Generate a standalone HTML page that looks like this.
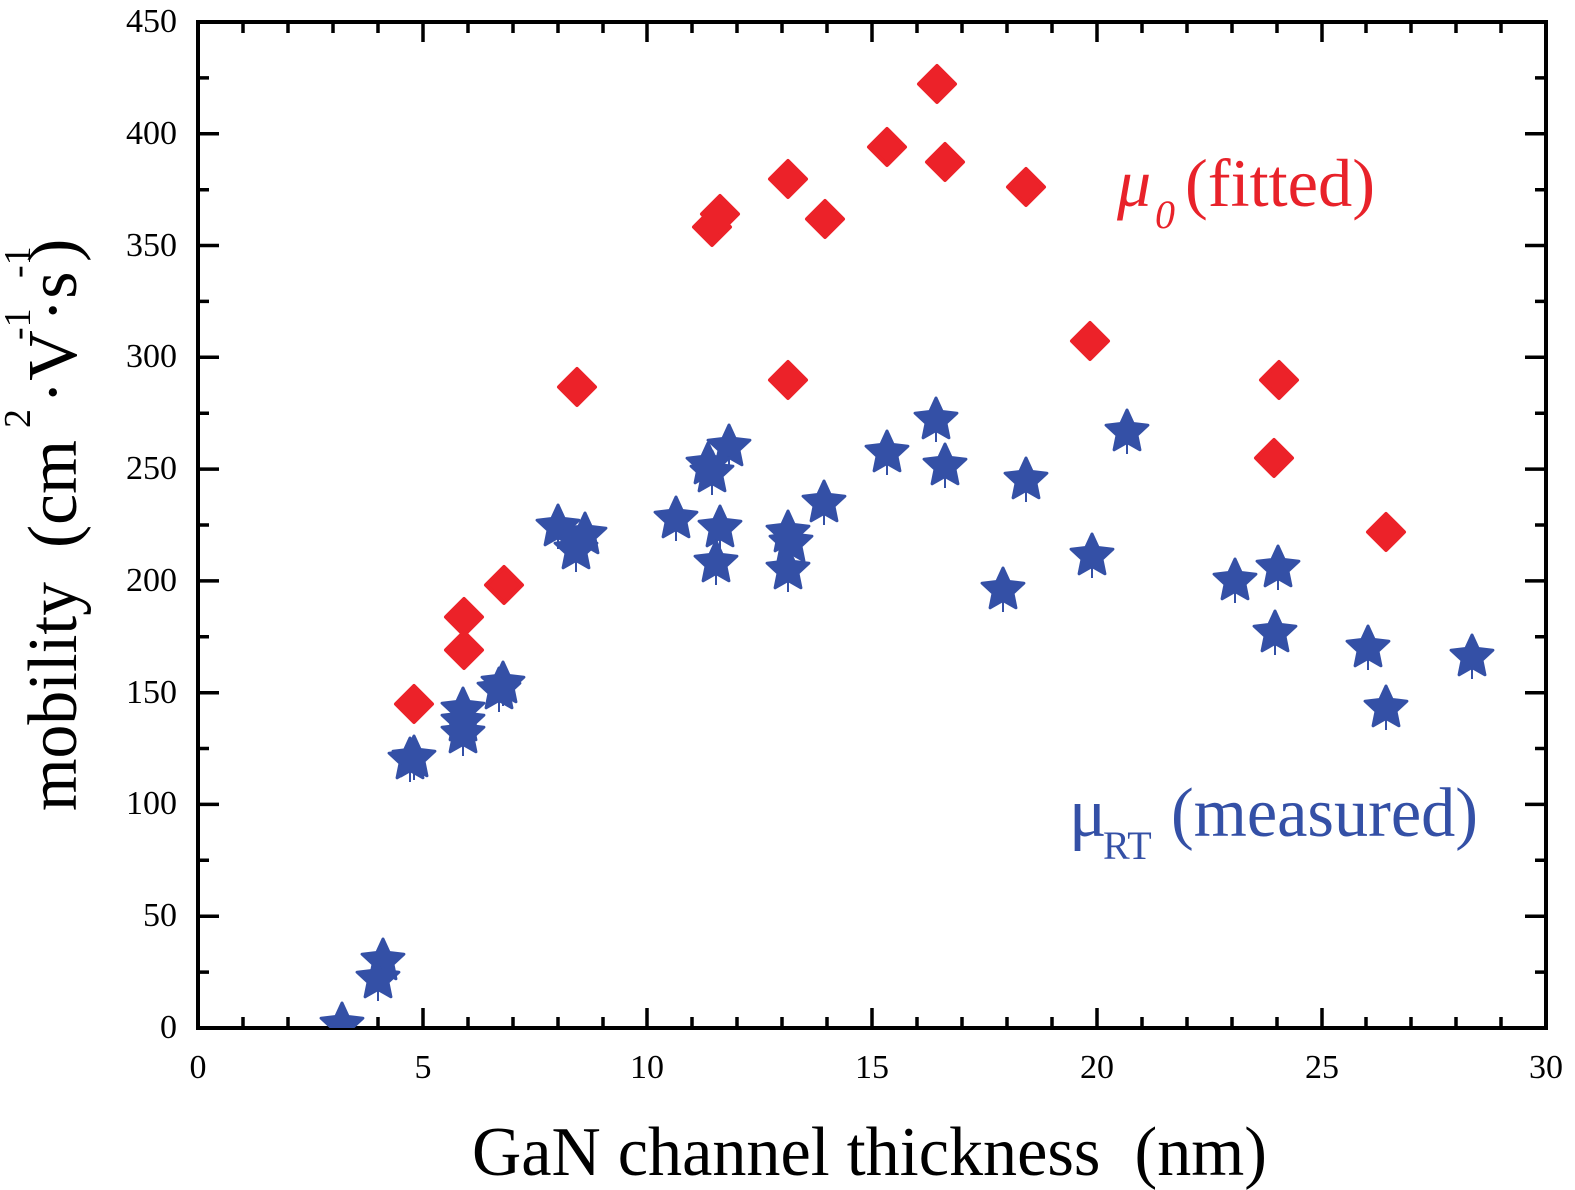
<!DOCTYPE html>
<html>
<head>
<meta charset="utf-8">
<style>
  html,body{margin:0;padding:0;background:#fff;}
  svg{display:block;}
  text{font-family:"Liberation Serif","DejaVu Serif",serif;}
</style>
</head>
<body>
<svg width="1575" height="1190" viewBox="0 0 1575 1190" xmlns="http://www.w3.org/2000/svg">
  <rect width="1575" height="1190" fill="#fff"/>
  <defs>
    <clipPath id="pa"><rect x="198" y="22" width="1348" height="1006"/></clipPath>
  </defs>

  <!-- frame -->
  <rect x="198" y="22" width="1348" height="1006" fill="none" stroke="#000" stroke-width="4"/>

  <!-- ticks -->
  <g stroke="#000" stroke-width="3.5">
    <path d="
      M198,1028v-20 M243,1028v-11 M288,1028v-11 M333,1028v-11 M378,1028v-11
      M423,1028v-20 M468,1028v-11 M513,1028v-11 M558,1028v-11 M603,1028v-11
      M647,1028v-20 M692,1028v-11 M737,1028v-11 M782,1028v-11 M827,1028v-11
      M872,1028v-20 M917,1028v-11 M962,1028v-11 M1007,1028v-11 M1052,1028v-11
      M1097,1028v-20 M1142,1028v-11 M1187,1028v-11 M1232,1028v-11 M1277,1028v-11
      M1322,1028v-20 M1366,1028v-11 M1411,1028v-11 M1456,1028v-11 M1501,1028v-11
      M1546,1028v-20
      M198,22v20 M243,22v11 M288,22v11 M333,22v11 M378,22v11
      M423,22v20 M468,22v11 M513,22v11 M558,22v11 M603,22v11
      M647,22v20 M692,22v11 M737,22v11 M782,22v11 M827,22v11
      M872,22v20 M917,22v11 M962,22v11 M1007,22v11 M1052,22v11
      M1097,22v20 M1142,22v11 M1187,22v11 M1232,22v11 M1277,22v11
      M1322,22v20 M1366,22v11 M1411,22v11 M1456,22v11 M1501,22v11
      M1546,22v20"/>
    <path d="
      M198,1028h21 M198,972.1h11 M198,916.2h21 M198,860.3h11 M198,804.4h21
      M198,748.5h11 M198,692.7h21 M198,636.8h11 M198,580.9h21 M198,525h11
      M198,469.1h21 M198,413.2h11 M198,357.3h21 M198,301.4h11 M198,245.5h21
      M198,189.7h11 M198,133.8h21 M198,77.9h11 M198,22h21
      M1546,1028h-21 M1546,972.1h-11 M1546,916.2h-21 M1546,860.3h-11 M1546,804.4h-21
      M1546,748.5h-11 M1546,692.7h-21 M1546,636.8h-11 M1546,580.9h-21 M1546,525h-11
      M1546,469.1h-21 M1546,413.2h-11 M1546,357.3h-21 M1546,301.4h-11 M1546,245.5h-21
      M1546,189.7h-11 M1546,133.8h-21 M1546,77.9h-11 M1546,22h-21"/>
  </g>

  <!-- y tick labels -->
  <g font-size="34" text-anchor="end" fill="#000">
    <text x="177" y="1038">0</text>
    <text x="177" y="926">50</text>
    <text x="177" y="814">100</text>
    <text x="177" y="703">150</text>
    <text x="177" y="591">200</text>
    <text x="177" y="479">250</text>
    <text x="177" y="367">300</text>
    <text x="177" y="256">350</text>
    <text x="177" y="144">400</text>
    <text x="177" y="32">450</text>
  </g>

  <!-- x tick labels -->
  <g font-size="34" text-anchor="middle" fill="#000">
    <text x="198" y="1078">0</text>
    <text x="423" y="1078">5</text>
    <text x="647" y="1078">10</text>
    <text x="872" y="1078">15</text>
    <text x="1097" y="1078">20</text>
    <text x="1322" y="1078">25</text>
    <text x="1546" y="1078">30</text>
  </g>

  <!-- x axis title -->
  <text x="472" y="1175" font-size="70" textLength="795" lengthAdjust="spacingAndGlyphs" fill="#000" xml:space="preserve">GaN channel thickness  (nm)</text>

  <!-- y axis title -->
  <g transform="rotate(-90)" fill="#000">
    <text x="-811" y="76" font-size="70" textLength="229" lengthAdjust="spacingAndGlyphs">mobility</text>
    <text x="-548" y="76" font-size="70" textLength="108" lengthAdjust="spacingAndGlyphs">(cm</text>
    <text x="-428" y="30" font-size="38">2</text>
    <text x="-404" y="76" font-size="70">·V</text>
    <text x="-340" y="30" font-size="38">-1</text>
    <text x="-322" y="76" font-size="70">·s</text>
    <text x="-278" y="30" font-size="38">-1</text>
    <text x="-262" y="76" font-size="70">)</text>
  </g>

  <!-- legend labels -->
  <g fill="#e8222a">
    <text x="1117" y="206" font-size="68" font-style="italic">μ</text>
    <text x="1155" y="228" font-size="40" font-style="italic">0</text>
    <text x="1185" y="206" font-size="68" textLength="190" lengthAdjust="spacingAndGlyphs">(fitted)</text>
  </g>
  <g fill="#3450a6">
    <text x="1069" y="836" font-size="70">μ</text>
    <text x="1103" y="859" font-size="40">RT</text>
    <text x="1171" y="836" font-size="70" textLength="307" lengthAdjust="spacingAndGlyphs">(measured)</text>
  </g>

  <!-- data -->
  <g clip-path="url(#pa)">
    <g fill="#ec2229" stroke="#ec2229" stroke-width="4" stroke-linejoin="round">
      <path transform="translate(414,704)" d="M0,-18L18,0L0,18L-18,0Z"/>
      <path transform="translate(464,617)" d="M0,-18L18,0L0,18L-18,0Z"/>
      <path transform="translate(464,650)" d="M0,-18L18,0L0,18L-18,0Z"/>
      <path transform="translate(504,585)" d="M0,-18L18,0L0,18L-18,0Z"/>
      <path transform="translate(577,387)" d="M0,-18L18,0L0,18L-18,0Z"/>
      <path transform="translate(712,227)" d="M0,-18L18,0L0,18L-18,0Z"/>
      <path transform="translate(720,214)" d="M0,-18L18,0L0,18L-18,0Z"/>
      <path transform="translate(788,179)" d="M0,-18L18,0L0,18L-18,0Z"/>
      <path transform="translate(788,380)" d="M0,-18L18,0L0,18L-18,0Z"/>
      <path transform="translate(825,219)" d="M0,-18L18,0L0,18L-18,0Z"/>
      <path transform="translate(887,147)" d="M0,-18L18,0L0,18L-18,0Z"/>
      <path transform="translate(937,84)" d="M0,-18L18,0L0,18L-18,0Z"/>
      <path transform="translate(945,162)" d="M0,-18L18,0L0,18L-18,0Z"/>
      <path transform="translate(1026,187)" d="M0,-18L18,0L0,18L-18,0Z"/>
      <path transform="translate(1090,341)" d="M0,-18L18,0L0,18L-18,0Z"/>
      <path transform="translate(1274,458)" d="M0,-18L18,0L0,18L-18,0Z"/>
      <path transform="translate(1279,380)" d="M0,-18L18,0L0,18L-18,0Z"/>
      <path transform="translate(1386,532)" d="M0,-18L18,0L0,18L-18,0Z"/>
    </g>

    <g fill="#3450a6" stroke="#3450a6" stroke-width="3" stroke-linejoin="round">
      <g transform="translate(342,1025)"><path d="M0,-22L6.17,-8.49L20.92,-6.8L9.99,3.24L12.93,17.8L0,10.5L-12.93,17.8L-9.99,3.24L-20.92,-6.8L-6.17,-8.49Z"/><path d="M0,10V22" stroke-width="2" fill="none"/></g>
      <g transform="translate(383,961)"><path d="M0,-22L6.17,-8.49L20.92,-6.8L9.99,3.24L12.93,17.8L0,10.5L-12.93,17.8L-9.99,3.24L-20.92,-6.8L-6.17,-8.49Z"/><path d="M0,10V22" stroke-width="2" fill="none"/></g>
      <g transform="translate(378,979)"><path d="M0,-22L6.17,-8.49L20.92,-6.8L9.99,3.24L12.93,17.8L0,10.5L-12.93,17.8L-9.99,3.24L-20.92,-6.8L-6.17,-8.49Z"/><path d="M0,10V22" stroke-width="2" fill="none"/></g>
      <g transform="translate(410,760)"><path d="M0,-22L6.17,-8.49L20.92,-6.8L9.99,3.24L12.93,17.8L0,10.5L-12.93,17.8L-9.99,3.24L-20.92,-6.8L-6.17,-8.49Z"/><path d="M0,10V22" stroke-width="2" fill="none"/></g>
      <g transform="translate(414,758)"><path d="M0,-22L6.17,-8.49L20.92,-6.8L9.99,3.24L12.93,17.8L0,10.5L-12.93,17.8L-9.99,3.24L-20.92,-6.8L-6.17,-8.49Z"/><path d="M0,10V22" stroke-width="2" fill="none"/></g>
      <g transform="translate(463,710)"><path d="M0,-22L6.17,-8.49L20.92,-6.8L9.99,3.24L12.93,17.8L0,10.5L-12.93,17.8L-9.99,3.24L-20.92,-6.8L-6.17,-8.49Z"/><path d="M0,10V22" stroke-width="2" fill="none"/></g>
      <g transform="translate(463,722)"><path d="M0,-22L6.17,-8.49L20.92,-6.8L9.99,3.24L12.93,17.8L0,10.5L-12.93,17.8L-9.99,3.24L-20.92,-6.8L-6.17,-8.49Z"/><path d="M0,10V22" stroke-width="2" fill="none"/></g>
      <g transform="translate(463,734)"><path d="M0,-22L6.17,-8.49L20.92,-6.8L9.99,3.24L12.93,17.8L0,10.5L-12.93,17.8L-9.99,3.24L-20.92,-6.8L-6.17,-8.49Z"/><path d="M0,10V22" stroke-width="2" fill="none"/></g>
      <g transform="translate(503,684)"><path d="M0,-22L6.17,-8.49L20.92,-6.8L9.99,3.24L12.93,17.8L0,10.5L-12.93,17.8L-9.99,3.24L-20.92,-6.8L-6.17,-8.49Z"/><path d="M0,10V22" stroke-width="2" fill="none"/></g>
      <g transform="translate(499,690)"><path d="M0,-22L6.17,-8.49L20.92,-6.8L9.99,3.24L12.93,17.8L0,10.5L-12.93,17.8L-9.99,3.24L-20.92,-6.8L-6.17,-8.49Z"/><path d="M0,10V22" stroke-width="2" fill="none"/></g>
      <g transform="translate(558,527)"><path d="M0,-22L6.17,-8.49L20.92,-6.8L9.99,3.24L12.93,17.8L0,10.5L-12.93,17.8L-9.99,3.24L-20.92,-6.8L-6.17,-8.49Z"/><path d="M0,10V22" stroke-width="2" fill="none"/></g>
      <g transform="translate(585,535)"><path d="M0,-22L6.17,-8.49L20.92,-6.8L9.99,3.24L12.93,17.8L0,10.5L-12.93,17.8L-9.99,3.24L-20.92,-6.8L-6.17,-8.49Z"/><path d="M0,10V22" stroke-width="2" fill="none"/></g>
      <g transform="translate(576,550)"><path d="M0,-22L6.17,-8.49L20.92,-6.8L9.99,3.24L12.93,17.8L0,10.5L-12.93,17.8L-9.99,3.24L-20.92,-6.8L-6.17,-8.49Z"/><path d="M0,10V22" stroke-width="2" fill="none"/></g>
      <g transform="translate(676,519)"><path d="M0,-22L6.17,-8.49L20.92,-6.8L9.99,3.24L12.93,17.8L0,10.5L-12.93,17.8L-9.99,3.24L-20.92,-6.8L-6.17,-8.49Z"/><path d="M0,10V22" stroke-width="2" fill="none"/></g>
      <g transform="translate(729,447)"><path d="M0,-22L6.17,-8.49L20.92,-6.8L9.99,3.24L12.93,17.8L0,10.5L-12.93,17.8L-9.99,3.24L-20.92,-6.8L-6.17,-8.49Z"/><path d="M0,10V22" stroke-width="2" fill="none"/></g>
      <g transform="translate(708,465)"><path d="M0,-22L6.17,-8.49L20.92,-6.8L9.99,3.24L12.93,17.8L0,10.5L-12.93,17.8L-9.99,3.24L-20.92,-6.8L-6.17,-8.49Z"/><path d="M0,10V22" stroke-width="2" fill="none"/></g>
      <g transform="translate(712,473)"><path d="M0,-22L6.17,-8.49L20.92,-6.8L9.99,3.24L12.93,17.8L0,10.5L-12.93,17.8L-9.99,3.24L-20.92,-6.8L-6.17,-8.49Z"/><path d="M0,10V22" stroke-width="2" fill="none"/></g>
      <g transform="translate(720,528)"><path d="M0,-22L6.17,-8.49L20.92,-6.8L9.99,3.24L12.93,17.8L0,10.5L-12.93,17.8L-9.99,3.24L-20.92,-6.8L-6.17,-8.49Z"/><path d="M0,10V22" stroke-width="2" fill="none"/></g>
      <g transform="translate(716,563)"><path d="M0,-22L6.17,-8.49L20.92,-6.8L9.99,3.24L12.93,17.8L0,10.5L-12.93,17.8L-9.99,3.24L-20.92,-6.8L-6.17,-8.49Z"/><path d="M0,10V22" stroke-width="2" fill="none"/></g>
      <g transform="translate(788,533)"><path d="M0,-22L6.17,-8.49L20.92,-6.8L9.99,3.24L12.93,17.8L0,10.5L-12.93,17.8L-9.99,3.24L-20.92,-6.8L-6.17,-8.49Z"/><path d="M0,10V22" stroke-width="2" fill="none"/></g>
      <g transform="translate(791,543)"><path d="M0,-22L6.17,-8.49L20.92,-6.8L9.99,3.24L12.93,17.8L0,10.5L-12.93,17.8L-9.99,3.24L-20.92,-6.8L-6.17,-8.49Z"/><path d="M0,10V22" stroke-width="2" fill="none"/></g>
      <g transform="translate(788,570)"><path d="M0,-22L6.17,-8.49L20.92,-6.8L9.99,3.24L12.93,17.8L0,10.5L-12.93,17.8L-9.99,3.24L-20.92,-6.8L-6.17,-8.49Z"/><path d="M0,10V22" stroke-width="2" fill="none"/></g>
      <g transform="translate(824,503)"><path d="M0,-22L6.17,-8.49L20.92,-6.8L9.99,3.24L12.93,17.8L0,10.5L-12.93,17.8L-9.99,3.24L-20.92,-6.8L-6.17,-8.49Z"/><path d="M0,10V22" stroke-width="2" fill="none"/></g>
      <g transform="translate(887,453)"><path d="M0,-22L6.17,-8.49L20.92,-6.8L9.99,3.24L12.93,17.8L0,10.5L-12.93,17.8L-9.99,3.24L-20.92,-6.8L-6.17,-8.49Z"/><path d="M0,10V22" stroke-width="2" fill="none"/></g>
      <g transform="translate(936,420)"><path d="M0,-22L6.17,-8.49L20.92,-6.8L9.99,3.24L12.93,17.8L0,10.5L-12.93,17.8L-9.99,3.24L-20.92,-6.8L-6.17,-8.49Z"/><path d="M0,10V22" stroke-width="2" fill="none"/></g>
      <g transform="translate(945,466)"><path d="M0,-22L6.17,-8.49L20.92,-6.8L9.99,3.24L12.93,17.8L0,10.5L-12.93,17.8L-9.99,3.24L-20.92,-6.8L-6.17,-8.49Z"/><path d="M0,10V22" stroke-width="2" fill="none"/></g>
      <g transform="translate(1026,480)"><path d="M0,-22L6.17,-8.49L20.92,-6.8L9.99,3.24L12.93,17.8L0,10.5L-12.93,17.8L-9.99,3.24L-20.92,-6.8L-6.17,-8.49Z"/><path d="M0,10V22" stroke-width="2" fill="none"/></g>
      <g transform="translate(1003,590)"><path d="M0,-22L6.17,-8.49L20.92,-6.8L9.99,3.24L12.93,17.8L0,10.5L-12.93,17.8L-9.99,3.24L-20.92,-6.8L-6.17,-8.49Z"/><path d="M0,10V22" stroke-width="2" fill="none"/></g>
      <g transform="translate(1092,556)"><path d="M0,-22L6.17,-8.49L20.92,-6.8L9.99,3.24L12.93,17.8L0,10.5L-12.93,17.8L-9.99,3.24L-20.92,-6.8L-6.17,-8.49Z"/><path d="M0,10V22" stroke-width="2" fill="none"/></g>
      <g transform="translate(1127,432)"><path d="M0,-22L6.17,-8.49L20.92,-6.8L9.99,3.24L12.93,17.8L0,10.5L-12.93,17.8L-9.99,3.24L-20.92,-6.8L-6.17,-8.49Z"/><path d="M0,10V22" stroke-width="2" fill="none"/></g>
      <g transform="translate(1235,581)"><path d="M0,-22L6.17,-8.49L20.92,-6.8L9.99,3.24L12.93,17.8L0,10.5L-12.93,17.8L-9.99,3.24L-20.92,-6.8L-6.17,-8.49Z"/><path d="M0,10V22" stroke-width="2" fill="none"/></g>
      <g transform="translate(1278,568)"><path d="M0,-22L6.17,-8.49L20.92,-6.8L9.99,3.24L12.93,17.8L0,10.5L-12.93,17.8L-9.99,3.24L-20.92,-6.8L-6.17,-8.49Z"/><path d="M0,10V22" stroke-width="2" fill="none"/></g>
      <g transform="translate(1275,633)"><path d="M0,-22L6.17,-8.49L20.92,-6.8L9.99,3.24L12.93,17.8L0,10.5L-12.93,17.8L-9.99,3.24L-20.92,-6.8L-6.17,-8.49Z"/><path d="M0,10V22" stroke-width="2" fill="none"/></g>
      <g transform="translate(1368,648)"><path d="M0,-22L6.17,-8.49L20.92,-6.8L9.99,3.24L12.93,17.8L0,10.5L-12.93,17.8L-9.99,3.24L-20.92,-6.8L-6.17,-8.49Z"/><path d="M0,10V22" stroke-width="2" fill="none"/></g>
      <g transform="translate(1386,708)"><path d="M0,-22L6.17,-8.49L20.92,-6.8L9.99,3.24L12.93,17.8L0,10.5L-12.93,17.8L-9.99,3.24L-20.92,-6.8L-6.17,-8.49Z"/><path d="M0,10V22" stroke-width="2" fill="none"/></g>
      <g transform="translate(1472,657)"><path d="M0,-22L6.17,-8.49L20.92,-6.8L9.99,3.24L12.93,17.8L0,10.5L-12.93,17.8L-9.99,3.24L-20.92,-6.8L-6.17,-8.49Z"/><path d="M0,10V22" stroke-width="2" fill="none"/></g>
    </g>
  </g>
</svg>
</body>
</html>
